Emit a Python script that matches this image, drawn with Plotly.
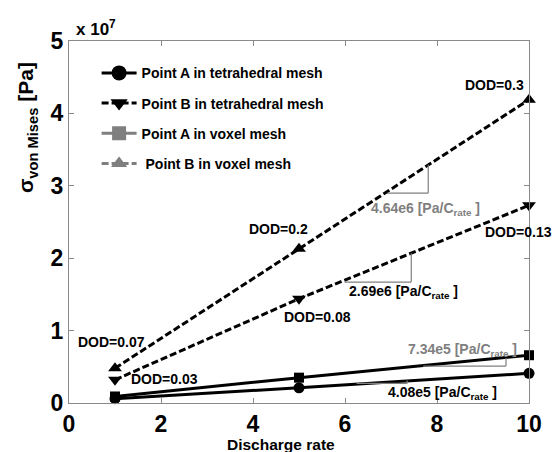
import plotly.graph_objects as go

# Discharge rate (C-rate) and von Mises stress [Pa] at the two probe points
rate = [1, 5, 10]
a_tet = [0.06e7, 0.21e7, 0.41e7]
b_tet = [0.32e7, 1.44e7, 2.73e7]
a_vox = [0.09e7, 0.35e7, 0.66e7]
b_vox = [0.48e7, 2.13e7, 4.19e7]

series_names = [
    "Point A in tetrahedral mesh",
    "Point B in tetrahedral mesh",
    "Point A in voxel mesh",
    " Point B in voxel mesh",
]
dod_labels = ["DOD=0.3", "DOD=0.2", "DOD=0.13", "DOD=0.08", "DOD=0.07", "DOD=0.03"]
slope_labels = ["4.64e6", "2.69e6", "7.34e5", "4.08e5"]

y_ticks = [0, 1e7, 2e7, 3e7, 4e7, 5e7]
y_tick_text = ["0", "1", "2", "3", "4", "5"]
x_ticks = [0, 2, 4, 6, 8, 10]

FONT = "Liberation Sans, Arial, sans-serif"
BLACK = "#000000"
GREY = "#7f7f7f"
DASH = "7px,3px"

fig = go.Figure()

# Curves in the plot area (all drawn in black)
styles = [
    (a_tet, "solid", "circle", 11),
    (b_tet, DASH, "triangle-down", 12),
    (a_vox, "solid", "square", 10),
    (b_vox, DASH, "triangle-up", 12),
]
for vals, dash, sym, size in styles:
    fig.add_trace(go.Scatter(
        x=rate, y=vals, mode="lines+markers", showlegend=False,
        line=dict(color=BLACK, width=3, dash=dash),
        marker=dict(symbol=sym, size=size, color=BLACK),
        cliponaxis=False,
    ))

# Legend entries
legend_styles = [
    (BLACK, "solid", "circle", 15),
    (BLACK, DASH, "triangle-down", 15),
    (GREY, "solid", "square", 14),
    (GREY, DASH, "triangle-up", 14),
]
for i, (name, (col, dash, sym, size)) in enumerate(zip(series_names, legend_styles)):
    fig.add_trace(go.Scatter(
        x=[None], y=[None], mode="lines+markers", name=name,
        legendgroup=f"g{i}",
        line=dict(color=col, width=3, dash=dash),
        marker=dict(symbol=sym, size=size, color=col),
    ))

# DOD annotations
dod_pos = [
    (9.26, 4.39e7, "center"),
    (4.56, 2.40e7, "center"),
    (9.0, 2.36e7, "left"),
    (5.4, 1.19e7, "center"),
    (0.93, 0.84e7, "center"),
    (2.08, 0.33e7, "center"),
]
annotations = []
for txt, (x, y, anchor) in zip(dod_labels, dod_pos):
    annotations.append(dict(
        x=x, y=y, xref="x", yref="y", text=f"<b>{txt}</b>", showarrow=False,
        xanchor=anchor, yanchor="middle",
        font=dict(family=FONT, size=14, color=BLACK),
    ))

# Slope labels with their small gradient triangles
slope_pos = [
    (7.74, 2.68e7, GREY),
    (7.27, 1.53e7, BLACK),
    (8.55, 0.73e7, GREY),
    (8.13, 0.14e7, BLACK),
]
for txt, (x, y, col) in zip(slope_labels, slope_pos):
    annotations.append(dict(
        x=x, y=y, xref="x", yref="y",
        text=f"<b>{txt} [Pa/C<sub>rate</sub> ]</b>", showarrow=False,
        xanchor="center", yanchor="middle",
        font=dict(family=FONT, size=14, color=col),
    ))

tri = [
    (6.92, 7.81, 2.90e7, 3.29e7),
    (5.99, 7.44, 1.67e7, 2.07e7),
    (7.70, 9.50, 0.51e7, 0.62e7),
    (6.25, 7.35, 0.27e7, 0.31e7),
]
shapes = []
for x0, x1, y0, y1 in tri:
    shapes.append(dict(type="line", xref="x", yref="y", x0=x0, x1=x1, y0=y0, y1=y0,
                       line=dict(color=GREY, width=1.2)))
    shapes.append(dict(type="line", xref="x", yref="y", x0=x1, x1=x1, y0=y0, y1=y1,
                       line=dict(color=GREY, width=1.2)))

# Axis titles and exponent marker
annotations += [
    dict(x=0.059, y=1.036, xref="paper", yref="paper", text="<b>x 10<sup>7</sup></b>",
         showarrow=False, xanchor="center", yanchor="middle",
         font=dict(family=FONT, size=17, color=BLACK)),
    dict(x=-0.091, y=0.76, xref="paper", yref="paper",
         text="<b>σ<sub>von Mises</sub> [Pa]</b>", textangle=-90,
         showarrow=False, xanchor="center", yanchor="middle",
         font=dict(family=FONT, size=21, color=BLACK)),
    dict(x=0.461, y=-0.116, xref="paper", yref="paper", text="<b>Discharge rate</b>",
         showarrow=False, xanchor="center", yanchor="middle",
         font=dict(family=FONT, size=15.5, color=BLACK)),
]

axis_common = dict(
    showgrid=False, zeroline=False, showline=True, linecolor="#8a8a8a", linewidth=1,
    mirror="allticks", ticks="inside", ticklen=5, tickcolor="#8a8a8a", tickwidth=1,
    tickfont=dict(family=FONT, size=23, color=BLACK, weight="bold"),
)

fig.update_layout(
    width=554, height=452,
    margin=dict(l=69, r=25, t=41, b=49),
    paper_bgcolor="white", plot_bgcolor="white",
    xaxis=dict(range=[0, 10], tickvals=x_ticks, **axis_common),
    yaxis=dict(range=[0, 5e7], tickvals=y_ticks, ticktext=y_tick_text, **axis_common),
    legend=dict(
        x=0.06, y=0.955, xanchor="left", yanchor="top",
        bgcolor="rgba(0,0,0,0)", borderwidth=0,
        font=dict(family=FONT, size=14, color=BLACK, weight="bold"),
        tracegroupgap=9, itemwidth=35,
    ),
    annotations=annotations,
    shapes=shapes,
)

fig.write_html("out.html")
